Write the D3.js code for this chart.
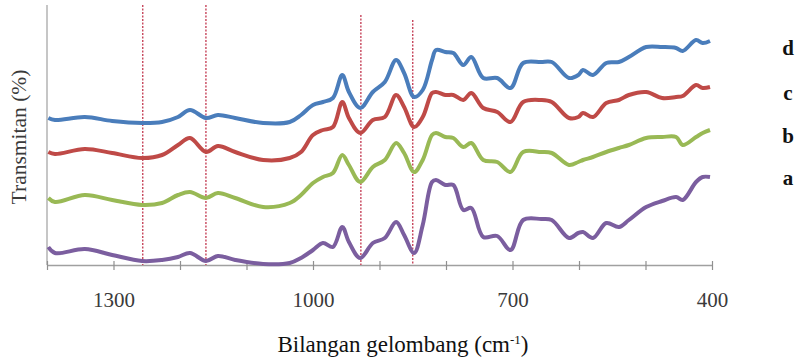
<!DOCTYPE html>
<html>
<head>
<meta charset="utf-8">
<script src="https://cdn.jsdelivr.net/npm/d3@7"></script>
<style>
  body { margin: 0; background: #fff; }
  svg { display: block; }
</style>
</head>
<body>
<svg id="chart" width="801" height="359"></svg>
<script>
// wavenumber grid (cm-1) that every spectrum is read at
var wavenumbers = [1398, 1388, 1343, 1302, 1257, 1227, 1203, 1185, 1161, 1143, 1117, 1075, 1035, 1018, 1000,
    985, 970, 956, 946, 929, 910, 892, 875, 863, 848, 835, 821, 815, 801, 789, 774, 762, 744, 723, 703,
    684, 657, 641, 615, 601, 594, 579, 559, 540, 525, 499, 475, 454, 444, 424, 414, 403];

// transmittance, arbitrary offset units
var seriesD = [73.5, 72.5, 74, 72, 71, 71.5, 74, 77.5, 73.5, 75, 73.5, 71, 71.5, 75, 80,
    81.5, 83.5, 95, 86.5, 78.5, 86.5, 91.5, 102.5, 96, 84, 87.5, 102.5, 107.5, 106.5, 106, 100, 104, 93.5, 93.5, 88.5,
    101, 101.5, 101.5, 93.5, 95, 97.5, 95, 101, 101.5, 104, 109, 109, 108.5, 107, 112.5, 111, 112];
var seriesC = [56.5, 55.5, 58, 56, 53.5, 55, 60, 63.5, 56.5, 59.5, 56.5, 52.5, 53.5, 56.5, 65,
    67.5, 69, 81.5, 73.5, 66, 72.5, 74, 85, 79, 69, 74, 86, 86.5, 85, 85, 82.5, 86, 78.5, 76.5, 71.5,
    81.5, 82.5, 81.5, 73.5, 74, 76, 74, 81, 82.5, 85, 86.5, 83.5, 84, 84.5, 90, 88.5, 89];
var seriesB = [33.5, 31.5, 35, 32.5, 30, 31, 35, 36.5, 33.5, 36, 33.5, 29, 31, 35, 41,
    44, 46, 55, 50, 41.5, 49, 52.5, 61, 56, 46.5, 52.5, 65, 66, 64, 63.5, 59, 61, 52.5, 51.5, 46.5,
    56.5, 56.5, 56, 50, 51.5, 52.5, 54, 56.5, 58.5, 60, 63.5, 64, 64, 60, 64, 66, 67.5];
var seriesA = [9, 6, 8, 5, 2, 2.5, 4, 6, 2, 4.5, 2.5, 0.5, 1, 3.5, 7.5,
    11, 9, 19, 11.5, 3.5, 11, 13.5, 21.5, 15, 6, 20, 41.5, 42.5, 40, 40, 27.5, 28.5, 14, 14.5, 7.5,
    22.5, 23, 22.5, 13.5, 16, 16.5, 13.5, 21, 19, 22.5, 29, 32, 34, 32.5, 41.5, 44, 44];

var seriesLabels = ["d", "c", "b", "a"];
var seriesColors = ["#4a7dbb", "#bf4a47", "#99b955", "#7b5e9f"];

// reference bands marked by dotted lines, and how high each one reaches
var markerBands = [1256, 1161, 928, 850];
var markerTops = [130, 130, 125, 122.5];

var tickValues = [1400, 1300, 1200, 1100, 1000, 900, 800, 700, 600, 500, 400];
var tickLabels = [1300, 1000, 700, 400];

var svg = d3.select("#chart");
var serif = "'Liberation Serif', 'Times New Roman', serif";

var x = d3.scaleLinear().domain([1400, 400]).range([47, 712]);
var y = d3.scaleLinear().domain([0, 130]).range([265, 5]);

// axes
svg.append("line")
    .attr("x1", x(1400)).attr("x2", x(1400))
    .attr("y1", y(130)).attr("y2", y(0))
    .attr("stroke", "#a0a0a0").attr("stroke-width", 1.2);

var xAxis = svg.append("g")
    .attr("transform", "translate(0," + y(0) + ")")
    .call(d3.axisBottom(x)
        .tickValues(tickValues)
        .tickSize(0)
        .tickPadding(27)
        .tickFormat(function (d) {
            return tickLabels.indexOf(d) >= 0 ? d : "";
        }));

xAxis.select(".domain").attr("stroke", "#a0a0a0").attr("stroke-width", 1.5);
xAxis.selectAll(".tick line")
    .attr("y1", -4).attr("y2", 5)
    .attr("stroke", "#909090").attr("stroke-width", 1.2);
xAxis.selectAll(".tick text")
    .attr("fill", "#3a3a3a")
    .style("font-family", serif)
    .style("font-size", "21px");

// dotted marker lines
svg.selectAll(".marker")
    .data(markerBands)
    .enter().append("line")
    .attr("class", "marker")
    .attr("x1", function (d) { return x(d); })
    .attr("x2", function (d) { return x(d); })
    .attr("y1", function (d, i) { return y(markerTops[i]); })
    .attr("y2", y(0))
    .attr("stroke", "#c2364e")
    .attr("stroke-width", 1.3)
    .attr("stroke-dasharray", "2,1.5");

// spectra
var allSeries = [seriesD, seriesC, seriesB, seriesA];

var line = d3.line()
    .x(function (d, i) { return x(wavenumbers[i]); })
    .y(function (d) { return y(d); })
    .curve(d3.curveCatmullRom.alpha(0.5));

svg.selectAll(".spectrum")
    .data(allSeries)
    .enter().append("path")
    .attr("class", "spectrum")
    .attr("fill", "none")
    .attr("stroke", function (d, i) { return seriesColors[i]; })
    .attr("stroke-width", 4)
    .attr("stroke-linejoin", "round")
    .attr("d", line);

// series labels on the right
var labelY = [55, 100, 143, 185];
svg.selectAll(".series-label")
    .data(seriesLabels)
    .enter().append("text")
    .attr("class", "series-label")
    .attr("x", 788)
    .attr("y", function (d, i) { return labelY[i]; })
    .attr("text-anchor", "middle")
    .style("font-family", serif)
    .style("font-weight", "bold")
    .style("font-size", "21px")
    .attr("fill", "#111")
    .text(function (d) { return d; });

// axis titles
svg.append("text")
    .attr("transform", "translate(26,137) rotate(-90)")
    .attr("text-anchor", "middle")
    .style("font-family", serif)
    .style("font-size", "21.5px")
    .attr("fill", "#3a3a3a")
    .text("Transmitan (%)");

var xTitle = svg.append("text")
    .attr("x", 403)
    .attr("y", 352)
    .attr("text-anchor", "middle")
    .style("font-family", serif)
    .style("font-size", "23px")
    .attr("fill", "#111");
xTitle.append("tspan").text("Bilangan gelombang (cm");
xTitle.append("tspan").attr("dy", -8).style("font-size", "13px").text("-1");
xTitle.append("tspan").attr("dy", 8).text(")");
</script>
</body>
</html>
